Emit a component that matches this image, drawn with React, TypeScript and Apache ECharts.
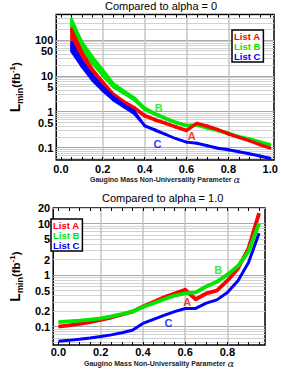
import React, { useEffect, useRef } from 'react';
import * as echarts from 'echarts';

// ---------- data ----------
const topTitle = 'Compared to alpha = 0';
const bottomTitle = 'Compared to alpha = 1.0';
const listNames = ['List A', 'List B', 'List C'];
const curveTags = ['A', 'B', 'C'];
const listColors = ['#ff0000', '#00e600', '#0000ff'];
const xAxisName = 'Gaugino Mass Non-Universality Parameter ';

// top panel (compared to alpha = 0): bands (upper / lower)
const topAlpha = [0.05, 0.1, 0.15, 0.2, 0.25, 0.3, 0.35, 0.4, 0.45, 0.5, 0.55, 0.6, 0.65, 0.7, 0.75, 0.8, 0.85, 0.9, 0.95, 1.0];
const topAHigh = [210, 48, 16, 7, 3.2, 2.0, 1.35, 0.82, 0.62, 0.5, 0.39, 0.31, 0.49, 0.41, 0.33, 0.25, 0.2, 0.16, 0.125, 0.1];
const topALow = [105, 32, 12, 5.5, 2.6, 1.7, 1.2, 0.74, 0.57, 0.46, 0.36, 0.29, 0.46, 0.38, 0.31, 0.235, 0.188, 0.152, 0.118, 0.094];
const topBHigh = [400, 90, 35, 15, 6.2, 3.9, 2.5, 1.3, 0.92, 0.68, 0.52, 0.43, 0.44, 0.37, 0.31, 0.26, 0.21, 0.18, 0.15, 0.125];
const topBLow = [165, 50, 22, 10, 4.8, 3.2, 2.1, 1.12, 0.83, 0.62, 0.48, 0.4, 0.41, 0.34, 0.29, 0.24, 0.2, 0.17, 0.14, 0.115];
const topCHigh = [88, 26, 10.5, 5, 2.6, 1.6, 1.05, 0.42, 0.32, 0.24, 0.18, 0.145, 0.135, 0.115, 0.098, 0.089, 0.079, 0.069, 0.06, 0.052];
const topCLow = [48, 18, 7.5, 3.8, 2.1, 1.35, 0.88, 0.4, 0.3, 0.23, 0.175, 0.14, 0.13, 0.11, 0.094, 0.085, 0.075, 0.066, 0.057, 0.049];

// bottom panel (compared to alpha = 1.0)
const bottomAlpha = [0, 0.05, 0.1, 0.15, 0.2, 0.25, 0.3, 0.35, 0.4, 0.45, 0.5, 0.55, 0.6, 0.65, 0.7, 0.75, 0.8, 0.85, 0.9, 0.95];
const bottomA = [0.1, 0.106, 0.113, 0.122, 0.135, 0.15, 0.17, 0.195, 0.245, 0.3, 0.37, 0.44, 0.52, 0.34, 0.44, 0.5, 0.78, 1.35, 3.3, 16];
const bottomB = [0.122, 0.126, 0.13, 0.137, 0.145, 0.158, 0.175, 0.195, 0.24, 0.285, 0.34, 0.4, 0.44, 0.46, 0.6, 0.74, 1.02, 1.5, 2.9, 10];
const bottomC = [0.052, 0.054, 0.057, 0.06, 0.064, 0.069, 0.076, 0.085, 0.115, 0.138, 0.165, 0.195, 0.225, 0.225, 0.285, 0.33, 0.46, 0.78, 1.75, 6.5];

// curve tags (A, B, C) anchored in data space
const topTagAlpha = [0.625, 0.467, 0.462];
const topTagValue = [0.21, 1.29, 0.124];
const bottomTagAlpha = [0.61, 0.756, 0.521];
const bottomTagValue = [0.3, 1.25, 0.119];

// axis ticks / labels
const topXLabels = [0, 0.2, 0.4, 0.6, 0.8, 1.0];
const bottomXLabels = [0, 0.2, 0.4, 0.6, 0.8];
const xGridValues = [0.2, 0.4, 0.6, 0.8];
const topXTicks = [0, 0.05, 0.1, 0.15, 0.2, 0.25, 0.3, 0.35, 0.4, 0.45, 0.5, 0.55, 0.6, 0.65, 0.7, 0.75, 0.8, 0.85, 0.9, 0.95, 1.0];
const bottomXTicks = [0, 0.05, 0.1, 0.15, 0.2, 0.25, 0.3, 0.35, 0.4, 0.45, 0.5, 0.55, 0.6, 0.65, 0.7, 0.75, 0.8, 0.85, 0.9, 0.95];
const topYLabels = [0.1, 0.5, 1, 5, 10, 50, 100];
const bottomYLabels = [0.1, 0.2, 0.5, 1, 2, 5, 10, 20];
const topXRange = [-0.022, 1.018];
const bottomXRange = [-0.0245, 0.978];
const topYRange = [0.0453, 510];
const bottomYRange = [0.0437, 20.1];

// ---------- helpers ----------
const FONT = "'Liberation Sans', Arial, Helvetica, sans-serif";
const lg = (v: number) => Math.log10(v);

function decadeLines(lo: number, hi: number) {
  const major: number[] = [];
  const minor: number[] = [];
  for (let e = -3; e <= 3; e++) {
    for (let m = 1; m <= 9; m++) {
      const v = lg(m) + e;
      if (v >= lo - 1e-9 && v <= hi + 1e-9) (m === 1 ? major : minor).push(v);
    }
  }
  return { major, minor };
}

function fmtY(v: number) {
  return String(Number(Math.pow(10, v).toPrecision(2)));
}

function buildPanel(p: number, cfg: any) {
  const xBase = p * 3;
  const yBase = p * 2;
  const yLo = lg(cfg.yRange[0]);
  const yHi = lg(cfg.yRange[1]);
  const lines = decadeLines(yLo, yHi);
  const grid = { left: cfg.grid[0], top: cfg.grid[1], width: cfg.grid[2], height: cfg.grid[3], show: true, borderColor: '#000', borderWidth: 1.5, backgroundColor: '#fff' };
  const xAxes: any[] = [
    {
      type: 'value', gridIndex: p, min: cfg.xRange[0], max: cfg.xRange[1], position: 'bottom',
      axisLine: { show: false, onZero: false }, axisTick: { show: false, customValues: xGridValues },
      axisLabel: { show: false }, splitLine: { show: true, lineStyle: { color: '#c4c4c4', width: 1.5 } },
    },
    {
      type: 'value', gridIndex: p, min: cfg.xRange[0], max: cfg.xRange[1], position: 'bottom',
      axisLine: { show: false, onZero: false },
      axisTick: { show: true, inside: true, length: 3, customValues: cfg.xTicks, lineStyle: { color: '#000', width: 1 } },
      axisLabel: { show: true, customValues: cfg.xLabels, formatter: (v: number) => v.toFixed(1), fontSize: 11, fontWeight: 'bold', color: '#000', fontFamily: FONT, margin: cfg.xLabelMargin },
      splitLine: { show: false },
      name: '{t|' + xAxisName + '}{g|α}', nameLocation: 'middle', nameGap: cfg.xNameGap,
      nameTextStyle: {
        rich: {
          t: { fontSize: 7, fontWeight: 'bold', fontFamily: FONT, color: '#222' },
          g: { fontSize: 10, fontFamily: "'DejaVu Serif', serif", fontStyle: 'italic', color: '#222' },
        },
      },
    },
    {
      type: 'value', gridIndex: p, min: cfg.xRange[0], max: cfg.xRange[1], position: 'top',
      axisLine: { show: false, onZero: false },
      axisTick: { show: true, inside: true, length: 3, customValues: cfg.xTicks, lineStyle: { color: '#000', width: 1 } },
      axisLabel: { show: false }, splitLine: { show: false },
    },
  ];
  const yAxes: any[] = [
    {
      type: 'value', gridIndex: p, min: yLo, max: yHi, position: 'left',
      axisLine: { show: false, onZero: false }, axisTick: { show: false, customValues: lines.minor },
      axisLabel: { show: false }, splitLine: { show: true, lineStyle: { color: '#d2d2d2', width: 1 } },
    },
    {
      type: 'value', gridIndex: p, min: yLo, max: yHi, position: 'left',
      axisLine: { show: false, onZero: false }, axisTick: { show: false, customValues: lines.major },
      axisLabel: { show: true, customValues: cfg.yLabels.map(lg), formatter: fmtY, fontSize: 11, fontWeight: 'bold', color: '#000', fontFamily: FONT, margin: 3 },
      splitLine: { show: true, lineStyle: { color: '#a8a8a8', width: 1.2 } },
      name: '{L|L}{s|min}{n|(fb}{u|-1}{n|)}', nameLocation: 'middle', nameGap: cfg.yNameGap, nameRotate: 90,
      nameTextStyle: {
        rich: {
          L: { fontSize: 14, fontWeight: 'bold', fontFamily: FONT, color: '#000', verticalAlign: 'bottom' },
          s: { fontSize: 9, fontWeight: 'bold', fontFamily: FONT, color: '#000', verticalAlign: 'bottom', padding: [0, 0, -2, 0] },
          n: { fontSize: 11.5, fontWeight: 'bold', fontFamily: FONT, color: '#000', verticalAlign: 'bottom' },
          u: { fontSize: 8, fontWeight: 'bold', fontFamily: FONT, color: '#000', verticalAlign: 'top' },
        },
      },
    },
  ];
  const xi = xBase + 1;
  const yi = yBase + 1;
  const series: any[] = [...cfg.series(xi, yi)];
  series.push({
    type: 'scatter', name: 'tags' + p, xAxisIndex: xi, yAxisIndex: yi, symbolSize: 1, silent: true,
    itemStyle: { color: 'transparent' },
    data: curveTags.map((t, k) => ({
      value: [cfg.tagAlpha[k], lg(cfg.tagValue[k]), t],
      label: { show: true, position: 'inside', formatter: (q: any) => q.data.value[2], color: listColors[k], fontSize: 11, fontWeight: 'bold', fontFamily: FONT },
    })),
    z: 5,
  });
  const title = { text: cfg.title, left: cfg.titlePos[0], top: cfg.titlePos[1], padding: 0, textStyle: { fontSize: 11, fontWeight: 'normal', color: '#000', fontFamily: FONT } };
  const legend = {
    data: listNames.map((n, k) => ({ name: n, textStyle: { color: listColors[k] } })),
    orient: 'vertical', left: cfg.legendPos[0], top: cfg.legendPos[1], itemWidth: 0, itemHeight: 9, itemGap: 0,
    icon: 'rect', padding: [1, 3, 1, -3], borderColor: '#000', borderWidth: 1.5, backgroundColor: '#fff',
    selectedMode: false,
    textStyle: { fontSize: 9.5, fontWeight: 'bold', fontFamily: FONT, lineHeight: 9.5 },
  };
  return { grid, xAxes, yAxes, series, title, legend };
}

function bandSeries(name: string, color: string, alpha: number[], hi: number[], lo: number[], xi: number, yi: number) {
  const n = alpha.length;
  return {
    type: 'custom', name, xAxisIndex: xi, yAxisIndex: yi, coordinateSystem: 'cartesian2d', silent: true,
    itemStyle: { color },
    data: alpha.map((a, i) => [a, lg(hi[i]), lg(lo[i])]),
    encode: { x: 0, y: [1, 2] },
    renderItem: (params: any, api: any) => {
      const i = params.dataIndexInside;
      if (i >= n - 1) return null;
      const a0 = api.value(0, i), a1 = api.value(0, i + 1);
      const pts = [
        api.coord([a0, api.value(1, i)]),
        api.coord([a1, api.value(1, i + 1)]),
        api.coord([a1, api.value(2, i + 1)]),
        api.coord([a0, api.value(2, i)]),
      ];
      return { type: 'polygon', shape: { points: pts }, style: { fill: color, stroke: color, lineWidth: 2.4, lineJoin: 'round' } };
    },
  };
}

function lineSeries(name: string, color: string, alpha: number[], vals: number[], xi: number, yi: number, w: number) {
  return {
    type: 'line', name, xAxisIndex: xi, yAxisIndex: yi, symbol: 'none', silent: true,
    itemStyle: { color }, lineStyle: { color, width: w, join: 'round' },
    data: alpha.map((a, i) => [a, lg(vals[i])]),
  };
}

function buildOption() {
  const top = buildPanel(0, {
    grid: [40, 14.5, 234, 145.5], xRange: topXRange, yRange: topYRange, xTicks: topXTicks, xLabels: topXLabels,
    yLabels: topYLabels, xLabelMargin: 3, xNameGap: 13.5, yNameGap: 27, tagAlpha: topTagAlpha, tagValue: topTagValue,
    title: topTitle, titlePos: [105, 0], legendPos: [232, 30],
    series: (xi: number, yi: number) => [
      bandSeries(listNames[1], listColors[1], topAlpha, topBHigh, topBLow, xi, yi),
      bandSeries(listNames[0], listColors[0], topAlpha, topAHigh, topALow, xi, yi),
      bandSeries(listNames[2], listColors[2], topAlpha, topCHigh, topCLow, xi, yi),
    ],
  });
  const bottom = buildPanel(1, {
    grid: [39.5, 208, 225.5, 139], xRange: bottomXRange, yRange: bottomYRange, xTicks: bottomXTicks, xLabels: bottomXLabels,
    yLabels: bottomYLabels, xLabelMargin: 1, xNameGap: 11.5, yNameGap: 27, tagAlpha: bottomTagAlpha, tagValue: bottomTagValue,
    title: bottomTitle, titlePos: [102, 192], legendPos: [51, 219],
    series: (xi: number, yi: number) => [
      lineSeries(listNames[0], listColors[0], bottomAlpha, bottomA, xi, yi, 3.8),
      lineSeries(listNames[1], listColors[1], bottomAlpha, bottomB, xi, yi, 3.8),
      lineSeries(listNames[2], listColors[2], bottomAlpha, bottomC, xi, yi, 3),
    ],
  });
  return {
    animation: false,
    backgroundColor: '#fff',
    title: [top.title, bottom.title],
    legend: [top.legend, bottom.legend],
    grid: [top.grid, bottom.grid],
    xAxis: [...top.xAxes, ...bottom.xAxes],
    yAxis: [...top.yAxes, ...bottom.yAxes],
    series: [...top.series, ...bottom.series],
  };
}

export default function App() {
  const ref = useRef<HTMLDivElement>(null);
  useEffect(() => {
    if (!ref.current) return;
    const chart = echarts.init(ref.current, null, { renderer: 'svg' });
    chart.setOption(buildOption() as any);
    return () => chart.dispose();
  }, []);
  return <div ref={ref} style={{ position: 'absolute', left: 0, top: 0, width: 281, height: 369 }} />;
}
